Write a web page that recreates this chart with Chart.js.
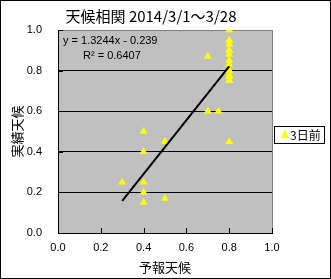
<!DOCTYPE html>
<html>
<head>
<meta charset="utf-8">
<script src="https://cdn.jsdelivr.net/npm/chart.js@4.4.1/dist/chart.umd.min.js"></script>
<style>
  body { margin: 0; background: #fff; }
  canvas { display: block; }
</style>
</head>
<body>
<canvas id="weatherChart" width="331" height="279"></canvas>
<script>

// 予報天候 (x) / 実績天候 (y), 3日前予報, 2014/3/1〜3/28
const forecastX = [
    0.3,
    0.4, 0.4, 0.4, 0.4, 0.4,
    0.5, 0.5,
    0.7, 0.7, 0.75,
    0.8, 0.8, 0.8, 0.8, 0.8, 0.8, 0.8, 0.8, 0.8, 0.8, 0.8, 0.8, 0.8, 0.8, 0.8, 0.8, 0.8
];

const actualY = [
    0.25,
    0.5, 0.4, 0.25, 0.2, 0.15,
    0.45, 0.17,
    0.87, 0.6, 0.6,
    0.45, 1.0, 1.0, 0.95, 0.93, 0.9, 0.9, 0.88, 0.85, 0.83, 0.8, 0.8, 0.78, 0.77, 0.75, 0.75, 0.75
];

const axisTicks = [0.0, 0.2, 0.4, 0.6, 0.8, 1.0];

// 近似直線 (Excel の線形近似)
const trendSlope = 1.3244;
const trendIntercept = -0.239;
const trendRange = [0.3, 0.8];

const seriesName = "3日前";
const chartTitle = "天候相関 2014/3/1～3/28";

const points = forecastX.map((x, i) => ({ x: x, y: actualY[i] }));
const trendPoints = trendRange.map((x) => ({ x: x, y: trendSlope * x + trendIntercept }));

const frame = {
    id: "frame",
    beforeDraw(chart) {
        const { ctx, chartArea: a } = chart;
        ctx.save();
        ctx.fillStyle = "#ffffff";
        ctx.fillRect(0, 0, chart.width, chart.height);
        ctx.fillStyle = "#c0c0c0";
        ctx.fillRect(a.left, a.top, a.right - a.left, a.bottom - a.top);
        ctx.restore();
    },
    afterDatasetsDraw(chart) {
        const { ctx, chartArea: a, scales } = chart;
        ctx.save();

        // right border of the plot
        ctx.strokeStyle = "#808080";
        ctx.lineWidth = 1;
        ctx.beginPath();
        ctx.moveTo(Math.round(a.right) + 0.5, a.top);
        ctx.lineTo(Math.round(a.right) + 0.5, a.bottom);
        ctx.stroke();

        // inside tick marks
        ctx.strokeStyle = "#000000";
        ctx.beginPath();
        axisTicks.forEach((v) => {
            const px = Math.round(scales.x.getPixelForValue(v)) + 0.5;
            ctx.moveTo(px, a.bottom);
            ctx.lineTo(px, a.bottom - 5);
            const py = Math.round(scales.y.getPixelForValue(v)) + 0.5;
            ctx.moveTo(a.left, py);
            ctx.lineTo(a.left + 5, py);
        });
        ctx.stroke();

        // equation
        ctx.fillStyle = "#000000";
        ctx.font = "11px 'Liberation Sans', Arial, sans-serif";
        ctx.textBaseline = "middle";
        ctx.textAlign = "left";
        ctx.fillText("y = 1.3244x - 0.239", a.left + 5, a.top + 11);
        ctx.fillText("R² = 0.6407", a.left + 25, a.top + 26);

        // title
        ctx.font = "15px 'Noto Sans CJK JP', sans-serif";
        ctx.textAlign = "center";
        ctx.fillText(chartTitle, 151, 16);

        // legend
        ctx.fillStyle = "#ffffff";
        ctx.fillRect(274, 126, 50, 17);
        ctx.strokeStyle = "#000000";
        ctx.strokeRect(274.5, 126.5, 50, 17);
        ctx.fillStyle = "#ffff00";
        ctx.beginPath();
        ctx.moveTo(285, 130);
        ctx.lineTo(289, 138);
        ctx.lineTo(281, 138);
        ctx.closePath();
        ctx.fill();
        ctx.fillStyle = "#000000";
        ctx.textAlign = "left";
        ctx.font = "12px 'Noto Sans CJK JP', sans-serif";
        ctx.fillText(seriesName, 290, 135, 31);

        // outer border
        ctx.strokeStyle = "#000000";
        ctx.strokeRect(0.5, 0.5, chart.width - 1, chart.height - 1);
        ctx.restore();
    }
};

const tickFont = { family: "'Liberation Sans', Arial, sans-serif", size: 11 };
const titleFont = { family: "'Noto Sans CJK JP', sans-serif", size: 13 };

new Chart(document.getElementById("weatherChart"), {
    type: "scatter",
    data: {
        datasets: [
            {
                label: "trend",
                data: trendPoints,
                showLine: true,
                borderColor: "#000000",
                borderWidth: 2,
                pointRadius: 0,
                order: 0
            },
            {
                label: seriesName,
                data: points,
                pointStyle: "triangle",
                pointRadius: 4.6,
                backgroundColor: "#ffff00",
                borderColor: "#ffff00",
                borderWidth: 0,
                order: 1
            }
        ]
    },
    options: {
        responsive: false,
        devicePixelRatio: 1,
        animation: false,
        layout: { padding: { top: 30, right: 59, bottom: 0, left: 0 } },
        plugins: {
            legend: { display: false },
            tooltip: { enabled: false }
        },
        scales: {
            x: {
                min: 0,
                max: 1,
                afterFit: (s) => { s.height = 46; },
                afterBuildTicks: (s) => { s.ticks = axisTicks.map((v) => ({ value: v })); },
                grid: { display: true, drawOnChartArea: false, drawTicks: false },
                border: { color: "#000000", width: 1 },
                ticks: {
                    padding: 8,
                    color: "#000000",
                    font: tickFont,
                    callback: (v) => Number(v).toFixed(1)
                },
                title: {
                    display: true,
                    text: "予報天候",
                    color: "#000000",
                    font: titleFont,
                    padding: { top: 0, bottom: 4 }
                }
            },
            y: {
                min: 0,
                max: 1,
                afterFit: (s) => { s.width = 58; },
                afterBuildTicks: (s) => { s.ticks = axisTicks.map((v) => ({ value: v })); },
                grid: {
                    drawTicks: false,
                    color: (c) => (c.tick && c.tick.value === 1 ? "#808080" : "#000000")
                },
                border: { color: "#000000", width: 1 },
                ticks: {
                    padding: 16,
                    color: "#000000",
                    font: tickFont,
                    callback: (v) => Number(v).toFixed(1)
                },
                title: {
                    display: true,
                    text: "実績天候",
                    color: "#000000",
                    font: titleFont,
                    padding: { top: 9, bottom: 0 }
                }
            }
        }
    },
    plugins: [frame]
});

</script>
</body>
</html>
